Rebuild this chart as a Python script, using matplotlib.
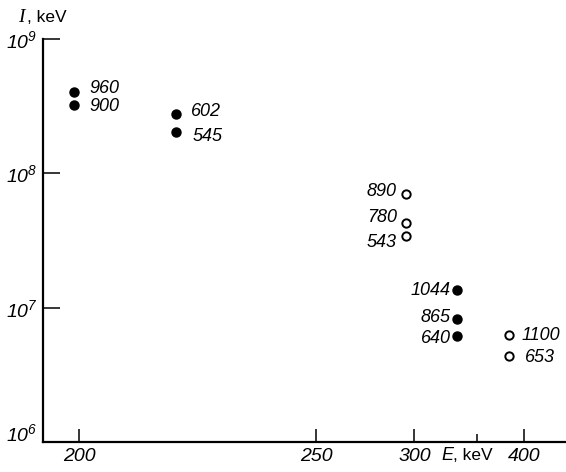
import numpy as np
import matplotlib
matplotlib.use('Agg')
import matplotlib.pyplot as plt
import matplotlib.transforms as mtrans
from matplotlib.ticker import FixedLocator, FixedFormatter

# values
energy_filled = [199.5, 199.5, 213, 213, 332, 332, 332]
intensity_filled = [4.0e8, 3.24e8, 2.75e8, 2.02e8, 1.35e7, 8.2e6, 6.2e6]
labels_filled = ['960', '900', '602', '545', '1044', '865', '640']

energy_open = [294.5, 294.5, 294.5, 382.5, 382.5]
intensity_open = [7.0e7, 4.3e7, 3.4e7, 6.25e6, 4.4e6]
labels_open = ['890', '780', '543', '1100', '653']

x_ticks = [200, 250, 300, 400]
x_minor = [350]
y_ticks = [1e6, 1e7, 1e8, 1e9]
y_tick_labels = ['$10^{6}$', '$10^{7}$', '$10^{8}$', '$10^{9}$']

# label offsets in points (dx, dy)
offsets_filled = [(10.8, 3), (10.8, -1), (10.8, 2), (12, -3), (-4.5, 0), (-4.5, 1), (-4.5, -2)]
offsets_open = [(-6.7, 2), (-6.7, 4), (-6.7, -4.3), (9, 0), (11.5, -1.2)]

FONT = 'Liberation Sans'
plt.rcParams['font.family'] = [FONT, 'DejaVu Sans']
plt.rcParams['mathtext.fontset'] = 'custom'
# digits in math fall back to the rm font, so make it italic too
plt.rcParams['mathtext.it'] = FONT + ':italic'
plt.rcParams['mathtext.rm'] = FONT + ':italic'
plt.rcParams['mathtext.default'] = 'it'

SHIFT = 182.0  # energy axis is drawn as log(E - SHIFT)


def fwd(e):
    e = np.asarray(e, dtype=float)
    return np.log10(np.maximum(e - SHIFT, 1e-6))


def inv(v):
    return 10 ** np.asarray(v, dtype=float) + SHIFT


W, H = 566, 472
fig = plt.figure(figsize=(W / 100, H / 100), dpi=100)
ax = fig.add_axes([43 / W, 30 / H, (W - 43) / W, (442 - 39) / H])

ax.set_xscale('function', functions=(fwd, inv))
ax.set_yscale('log')
ax.set_xlim(196.7, 458)
ax.set_ylim(1e6, 1e9)

ax.plot(energy_filled, intensity_filled, 'o', color='black', ms=6.5, zorder=3)
ax.plot(energy_open, intensity_open, 'o', mfc='white', mec='black', mew=1.4, ms=6, zorder=3)

for e, i, lab, (dx, dy) in zip(energy_filled + energy_open,
                               intensity_filled + intensity_open,
                               labels_filled + labels_open,
                               offsets_filled + offsets_open):
    ax.annotate(lab, (e, i), xytext=(dx, dy), textcoords='offset points',
                ha='left' if dx > 0 else 'right', va='center',
                fontsize=13, style='italic')

for s in ['top', 'right']:
    ax.spines[s].set_visible(False)
for s in ['left', 'bottom']:
    ax.spines[s].set_linewidth(1.6)

ax.xaxis.set_major_locator(FixedLocator(x_ticks))
ax.xaxis.set_major_formatter(FixedFormatter([str(t) for t in x_ticks]))
ax.xaxis.set_minor_locator(FixedLocator(x_minor))
ax.xaxis.set_minor_formatter(FixedFormatter(['']))
ax.yaxis.set_major_locator(FixedLocator(y_ticks))
ax.yaxis.set_major_formatter(FixedFormatter(y_tick_labels))
ax.yaxis.set_minor_locator(FixedLocator([]))

ax.tick_params(axis='x', which='major', direction='in', length=9.4, width=1.1,
               pad=4, labelsize=14)
ax.tick_params(axis='x', which='minor', direction='in', length=5.8, width=1.1)
ax.tick_params(axis='y', which='major', direction='in', length=12, width=1.1,
               pad=4, labelsize=14)
for lab in ax.get_xticklabels():
    lab.set_style('italic')

# the 10^6 label sits just above the corner
lab6 = ax.yaxis.get_major_ticks()[0].label1
lab6.set_transform(lab6.get_transform() +
                   mtrans.ScaledTranslation(0, 7 / 72, fig.dpi_scale_trans))

# axis titles
fig.text(447 / W, 1 - 455 / H, 'E', ha='center', va='center', fontsize=13,
         style='italic')
fig.text(453 / W, 1 - 455 / H, ', keV', ha='left', va='center', fontsize=12.5)
fig.text(21 / W, 1 - 17 / H, 'I', ha='center', va='center', fontsize=14,
         family='Liberation Serif', style='italic')
fig.text(27 / W, 1 - 18 / H, ', keV', ha='left', va='center', fontsize=12.5)

fig.savefig('out.png', dpi=100)
